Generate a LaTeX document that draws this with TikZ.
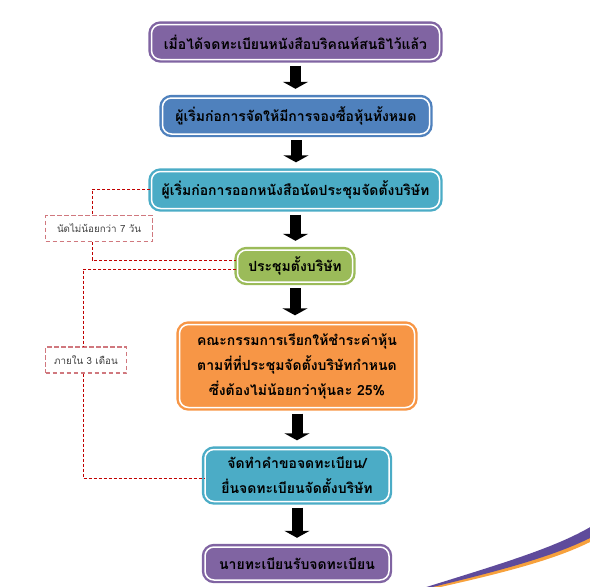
\documentclass[tikz,border=0pt]{standalone}
\usepackage{fontspec}
\newfontfamily\thai[Script=Thai]{Loma}
\usetikzlibrary{arrows.meta}

\definecolor{boxpurple}{HTML}{8064A2}
\definecolor{boxblue}{HTML}{4F81BD}
\definecolor{boxteal}{HTML}{4BACC6}
\definecolor{boxgreen}{HTML}{9BBB59}
\definecolor{boxorange}{HTML}{F79646}
\definecolor{dashred}{HTML}{C00000}
\definecolor{gappink}{HTML}{D0787E}
\definecolor{swpurple}{HTML}{5F4B9B}
\definecolor{sworange}{HTML}{F7A13C}

\tikzset{
	stepbox/.style={rounded corners=9pt, draw=#1, fill=#1, double=white, double distance=1.5pt,
		line width=2.4pt, inner sep=2pt, align=center,
		font=\thai\bfseries\fontsize{14}{25}\selectfont},
	gapbox/.style={draw=gappink, dash pattern=on 4.5pt off 2.5pt, line width=1.1pt,
		minimum height=26pt, inner sep=2pt, text=black!75, font=\thai\fontsize{9.8}{11}\selectfont},
	downarrow/.style={line width=11pt, -{Triangle[width=25pt,length=7pt]}, shorten <=5pt, shorten >=8pt},
	redline/.style={dashred, densely dashed, line width=0.8pt}
}

\begin{document}
\begin{tikzpicture}[x=1pt,y=-1pt]
\useasboundingbox (0,0) rectangle (590,587);

\fill[sworange] (418,590) .. controls (500,567) and (555,553) .. (592,530) -- (592,541) .. controls (555,560) and (500,574) .. (418,592) -- cycle;
\fill[swpurple] (420,589) .. controls (500,564) and (555,548) .. (592,526) -- (592,537) .. controls (555,556) and (500,571) .. (420,590) -- cycle;

\path
	(295.5,42) node[stepbox=boxpurple, minimum width=288pt, minimum height=35pt] (b1) {เมื่อได้จดทะเบียนหนังสือบริคณห์สนธิไว้แล้ว}
	(296,116) node[stepbox=boxblue, minimum width=267pt, minimum height=36pt] (b2) {ผู้เริ่มก่อการจัดให้มีการจองซื้อหุ้นทั้งหมด}
	(295.5,190) node[stepbox=boxteal, minimum width=288pt, minimum height=37pt] (b3) {ผู้เริ่มก่อการออกหนังสือนัดประชุมจัดตั้งบริษัท}
	(295,266) node[stepbox=boxgreen, minimum width=115pt, minimum height=32pt] (b4) {ประชุมตั้งบริษัท}
	(297,366) node[stepbox=boxorange, minimum width=235pt, minimum height=83pt] (b5) {คณะกรรมการเรียกให้ชำระค่าหุ้น\\ตามที่ที่ประชุมจัดตั้งบริษัทกำหนด\\ซึ่งต้องไม่น้อยกว่าหุ้นละ 25\%}
	(297,475.5) node[stepbox=boxteal, minimum width=184pt, minimum height=52pt] (b6) {จัดทำคำขอจดทะเบียน/\\ยื่นจดทะเบียนจัดตั้งบริษัท}
	(297,563.5) node[stepbox=boxpurple, minimum width=184pt, minimum height=33pt] (b7) {นายทะเบียนรับจดทะเบียน}

	(99,228.5) node[gapbox, minimum width=107pt] (gap1) {นัดไม่น้อยกว่า 7 วัน}
	(86,360) node[gapbox, minimum width=81pt] (gap2) {ภายใน 3 เดือน};

\draw[downarrow] (b1.south) -- (b1.south |- b2.north);
\draw[downarrow] (b2.south) -- (b2.south |- b3.north);
\draw[downarrow] (b3.south) -- (b3.south |- b4.north);
\draw[downarrow] (b4.south) -- (b4.south |- b5.north);
\draw[downarrow] (b5.south) -- (b5.south |- b6.north);
\draw[downarrow] (b6.south) -- (b6.south |- b7.north);

\draw[redline] ([yshift=1pt]b3.west) -| ([xshift=-7pt]gap1.north);
\draw[redline] ([xshift=-7pt]gap1.south) |- ([yshift=6pt]b4.west);
\draw[redline] ([yshift=-3pt]b4.west) -| ([xshift=-3pt]gap2.north);
\draw[redline] ([xshift=-3pt]gap2.south) |- ([yshift=-2.5pt]b6.west);
\end{tikzpicture}
\end{document}
